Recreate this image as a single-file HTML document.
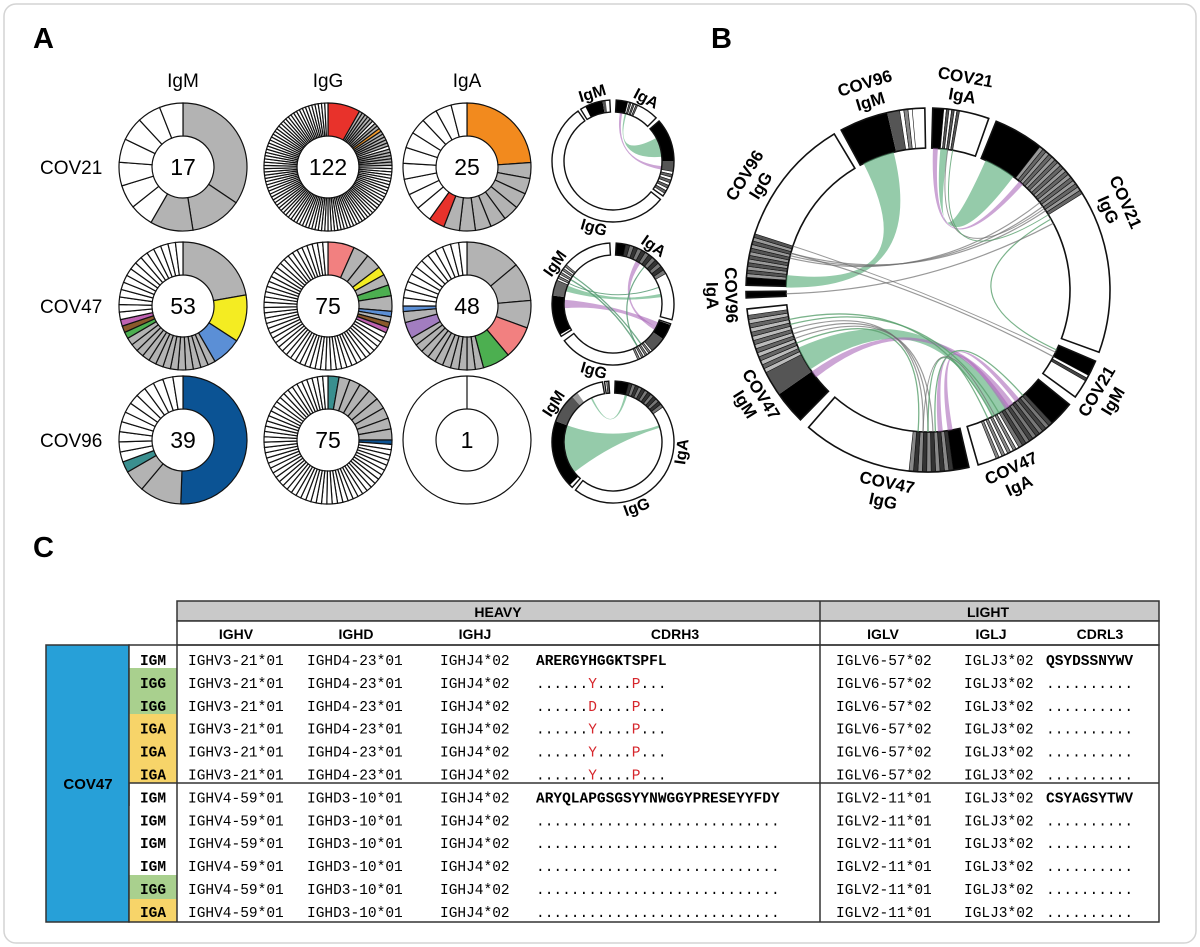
<!DOCTYPE html>
<html><head><meta charset="utf-8"><style>
html,body{margin:0;padding:0;background:#fff}
svg{display:block}
.mono{font-family:"Liberation Mono",monospace;font-size:14.5px}
</style></head><body>
<svg id="s" width="1200" height="947" viewBox="0 0 1200 947" xmlns="http://www.w3.org/2000/svg" font-family="Liberation Sans, Arial, sans-serif">
<rect x="4" y="4" width="1192" height="939" rx="12" fill="#fff" stroke="#d4d4d4" stroke-width="1.5"/>
<g id="shapes"></g>
<text x="33" y="48" font-size="29" font-weight="bold">A</text>
<text x="711" y="48" font-size="29" font-weight="bold">B</text>
<text x="33" y="557" font-size="29" font-weight="bold">C</text>
<g font-size="19" text-anchor="middle">
<text x="183" y="87">IgM</text><text x="328" y="87">IgG</text><text x="467" y="87">IgA</text>
</g>
<g font-size="19">
<text x="40" y="174">COV21</text><text x="40" y="313">COV47</text><text x="40" y="447">COV96</text>
</g>
<g font-size="23" text-anchor="middle">
<text x="183" y="175">17</text><text x="328" y="175">122</text><text x="467" y="175">25</text>
<text x="183" y="314">53</text><text x="328" y="314">75</text><text x="467" y="314">48</text>
<text x="183" y="448">39</text><text x="328" y="448">75</text><text x="467" y="448">1</text>
</g>
<g id="labels" font-weight="bold"></g>

<g>
<rect x="177" y="601" width="982" height="20" fill="#c9c9c9" stroke="#333" stroke-width="1.5"/>
<rect x="177" y="621" width="982" height="24" fill="#fff" stroke="#333" stroke-width="1.5"/>
<rect x="46" y="645" width="83" height="277" fill="#27a0d8" stroke="#333" stroke-width="1.5"/>
<rect x="129" y="645" width="48" height="23" fill="#fff"/>
<rect x="129" y="668" width="48" height="46" fill="#a9d08e"/>
<rect x="129" y="714" width="48" height="69" fill="#f7d469"/>
<rect x="129" y="806" width="48" height="69" fill="#fff"/>
<rect x="129" y="875" width="48" height="24" fill="#a9d08e"/>
<rect x="129" y="899" width="48" height="23" fill="#f7d469"/>
<rect x="129" y="645" width="1030" height="277" fill="none" stroke="#333" stroke-width="1.5"/>
<line x1="177" y1="645" x2="177" y2="922" stroke="#333" stroke-width="1.5"/>
<line x1="820" y1="601" x2="820" y2="922" stroke="#333" stroke-width="1.5"/>
<line x1="129" y1="783" x2="1159" y2="783" stroke="#333" stroke-width="1.5"/>
<g font-family="Liberation Sans, Arial, sans-serif" font-weight="bold" font-size="14" text-anchor="middle">
<text x="498" y="617">HEAVY</text><text x="988" y="617">LIGHT</text>
<text x="236" y="639">IGHV</text><text x="356" y="639">IGHD</text><text x="475" y="639">IGHJ</text><text x="675" y="639">CDRH3</text>
<text x="883" y="639">IGLV</text><text x="991" y="639">IGLJ</text><text x="1100" y="639">CDRL3</text>
<text x="88" y="789" font-size="15">COV47</text>
</g>
<g id="rows" class="mono"></g>
</g>
</svg>
<script>
var NS="http://www.w3.org/2000/svg";
var G=document.getElementById('shapes');
function el(t,a,p){var e=document.createElementNS(NS,t);for(var k in a)e.setAttribute(k,a[k]);(p||G).appendChild(e);return e;}
function pt(cx,cy,r,a){a=a*Math.PI/180;return[cx+r*Math.sin(a),cy-r*Math.cos(a)];}
function sector(cx,cy,r0,r1,a0,a1){var p1=pt(cx,cy,r1,a0),p2=pt(cx,cy,r1,a1),p3=pt(cx,cy,r0,a1),p4=pt(cx,cy,r0,a0);var l=(a1-a0)>180?1:0;
return "M"+p1+"A"+r1+","+r1+" 0 "+l+" 1 "+p2+"L"+p3+"A"+r0+","+r0+" 0 "+l+" 0 "+p4+"Z";}
var GR="#b3b3b3",W="#fff";
function donut(cx,cy,segs){var a=0;segs.forEach(function(s){var n=s[2]||1;for(var i=0;i<n;i++){el('path',{d:sector(cx,cy,31,64,a,a+s[0]),fill:s[1],stroke:'#111','stroke-width':1.2});a+=s[0];}});}
function rest(a,n){return [(360-a)/n,W,n];}
donut(183,167,[[124,GR],[47,GR],[39,GR],rest(210,7)]);
(function(){var s=[[29.5,"#e8322b"]];var a=29.5;var cols=[GR,GR,GR,GR,GR,W,GR,GR,"#f39a2b",GR,GR,GR,GR,GR,W,GR,GR,GR,GR,GR,W];cols.forEach(function(c){s.push([2.951,c]);a+=2.951;});s.push(rest(a,91));donut(328,167,s);})();
donut(467,167,[[86,"#f28a1e"],[14.4,GR,8],[14.4,"#e8322b"],rest(86+14.4*9,10)]);
(function(){var s=[[80,GR],[43,"#f4ec22"],[27,"#5b8fd6"],[6.9,GR,13],[6,"#4caf50"],[6,"#8a5a2b"],[6,"#c062b2"]];var a=80+43+27+6.9*13+18;s.push(rest(a,15));donut(183,306,s);})();
donut(328,306,[[24,"#f28080"],[14.4,GR],[14.4,GR],[8,"#f4ec22"],[10,GR],[10,"#4caf50"],[14,GR],[5,"#5b8fd6"],[5,GR],[5,"#8a5a2b"],[5,"#c062b2"],rest(114.8,51)]);
donut(467,306,[[50,GR],[35,GR],[25,GR],[30,"#f28080"],[25,"#4caf50"],[7.5,GR,10],[15,"#a27dc0"],[10,GR],[5,"#5b8fd6"],rest(270,12)]);
donut(183,440,[[182,"#0b5394"],[38,GR],[20,GR],[10,"#3a8f8f"],rest(250,12)]);
donut(328,440,[[10,"#3a8f8f"],[10,GR,8],[4,"#0b5394"],rest(94,55)]);
el('circle',{cx:467,cy:440,r:64,fill:W,stroke:'#111','stroke-width':1.2});
el('circle',{cx:467,cy:440,r:31,fill:W,stroke:'#111','stroke-width':1.2});
el('line',{x1:467,y1:376,x2:467,y2:409,stroke:'#111','stroke-width':1.2});

var GRN="rgba(92,175,125,0.65)",PUR="rgba(170,105,185,0.6)",GLN="rgba(110,110,110,0.7)";
function ring(cx,cy,r0,r1,parts){
 parts.forEach(function(p){
  if(p[3]){var n=p[3],d=(p[1]-p[0])/n;for(var i=0;i<n;i++)el('path',{d:sector(cx,cy,r0,r1,p[0]+i*d,p[0]+(i+1)*d),fill:(i%2?p[2]:(p[4]||W)),stroke:'#111','stroke-width':0.6});}
  else el('path',{d:sector(cx,cy,r0,r1,p[0],p[1]),fill:p[2],stroke:'none'});
 });}
function outline(cx,cy,r0,r1,a0,a1,sw){el('path',{d:sector(cx,cy,r0,r1,a0,a1),fill:'none',stroke:'#111','stroke-width':sw||1.5});}
function ribbon(cx,cy,r,a0,a1,b0,b1,col){var p1=pt(cx,cy,r,a0),p2=pt(cx,cy,r,a1),p3=pt(cx,cy,r,b0),p4=pt(cx,cy,r,b1);
 el('path',{d:"M"+p1+"A"+r+","+r+" 0 0 1 "+p2+"Q"+cx+","+cy+" "+p3+"A"+r+","+r+" 0 0 1 "+p4+"Q"+cx+","+cy+" "+p1+"Z",fill:col});}
function line(cx,cy,r,a,b,col,w){var p1=pt(cx,cy,r,a),p2=pt(cx,cy,r,b);el('path',{d:"M"+p1+"Q"+cx+","+cy+" "+p2,fill:'none',stroke:col,'stroke-width':w||1});}

var BX=928,BY=290,R0=142,R1=182;
var bsegs=[[1.5,19.5],[22,110],[113,126],[129,164],[167,221],[224.5,264],[267.5,269.5],[271.5,329],[331.5,359]];
bsegs.forEach(function(s){el('path',{d:sector(BX,BY,R0,R1,s[0],s[1]),fill:W});});
ring(BX,BY,R0,R1,[[1.5,5,"#000"],[5,10,"#555",6],[22,38,"#000"],[38,58,"#666",16,"#999"],[113,118,"#000"],[118,120,"#444",2],[129,137,"#000"],[137,150,"#777",10,"#444"],[150,158,"#888",8],[167,172,"#000"],[172,186,"#888",10,"#333"],[224.5,235,"#000"],[235,243,"#555"],[243,262,"#666",14,"#bbb"],[267.5,269.5,"#000"],[271.5,274,"#000"],[274,288,"#555",12,"#999"],[331.5,347,"#000"],[347,351,"#555"],[351,355,"#888",3]]);
bsegs.forEach(function(s){outline(BX,BY,R0,R1,s[0],s[1],1.6);});
ribbon(BX,BY,R0,333,346,271,276,GRN);
ribbon(BX,BY,R0,24,37,5,8,GRN);
ribbon(BX,BY,R0,2,4,40,42,PUR);
[52,54,56].forEach(function(a,i){line(BX,BY,R0,a,283+i,GLN,1.2);});
line(BX,BY,R0,285,118,GLN,1.2);line(BX,BY,R0,288,116,GLN,1);
line(BX,BY,R0,60,115,"rgba(90,160,110,0.8)",1.2);
line(BX,BY,R0,268.5,62,GLN,1.2);
line(BX,BY,R0,8,55,GLN,1);line(BX,BY,R0,10,58,"rgba(90,160,110,0.8)",1);
ribbon(BX,BY,R0,236,246,146,153,GRN);
ribbon(BX,BY,R0,232,235,143,146,PUR);
ribbon(BX,BY,R0,170,172,140,142,PUR);ribbon(BX,BY,R0,174,176,145,147,PUR);
[250,252,254].forEach(function(a,i){line(BX,BY,R0,a,178+i*2,GLN,1.2);});
[256,258].forEach(function(a,i){line(BX,BY,R0,a,150+i*3,"rgba(90,160,110,0.8)",1.3);});
line(BX,BY,R0,180,155,"rgba(90,160,110,0.8)",1.3);line(BX,BY,R0,177,138,"rgba(90,160,110,0.8)",1.3);
line(BX,BY,R0,182,152,GLN,1);line(BX,BY,R0,248,184,"rgba(90,160,110,0.8)",1.3);

function small(cx,cy,segs,parts,ch){var r0=49,r1=61;segs.forEach(function(s){el('path',{d:sector(cx,cy,r0,r1,s[0],s[1]),fill:W});});ring(cx,cy,r0,r1,parts);ch(cx,cy,r0);segs.forEach(function(s){outline(cx,cy,r0,r1,s[0],s[1],1.4);});}
small(613,161,[[328,357],[3,45],[49,125],[129,325]],[[333,350,"#000"],[350,353,"#555"],[3,14,"#000"],[14,24,"#666",6],[49,90,"#000"],[90,100,"#555"],[100,122,"#666",8]],function(cx,cy,r){ribbon(cx,cy,r,8,11,96,100,PUR);ribbon(cx,cy,r,14,16,62,85,GRN);});
small(613,304,[[238,357],[3,105],[109,233]],[[240,278,"#000"],[278,293,"#666"],[293,310,"#888",8],[3,12,"#000"],[12,60,"#777",12,"#333"],[110,125,"#000"],[125,140,"#555"],[140,156,"#888",8]],function(cx,cy,r){ribbon(cx,cy,r,265,275,112,118,PUR);ribbon(cx,cy,r,28,34,118,122,PUR);ribbon(cx,cy,r,285,292,78,82,GRN);line(cx,cy,r,300,150,"rgba(80,150,110,0.8)",1.3);line(cx,cy,r,305,145,"rgba(80,150,110,0.8)",1.3);line(cx,cy,r,40,150,"rgba(80,150,110,0.8)",1.2);line(cx,cy,r,295,70,"rgba(80,150,110,0.8)",1);});
small(613,442,[[222,350],[352,356],[2,218]],[[225,290,"#000"],[290,318,"#555"],[318,324,"#999"],[352,356,"#888",2],[2,15,"#000"],[15,55,"#777",12,"#333"]],function(cx,cy,r){ribbon(cx,cy,r,232,290,70,73,GRN);ribbon(cx,cy,r,333,335,14,17,GRN);});

var L=document.getElementById('labels');
function clab(cx,cy,R,ang,lines,fs,lh){var top=(ang>=270||ang<=90);var rot=top?ang:ang-180;var n=lines.length;
 lines.forEach(function(t,i){var r=top?R+(n-1-i)*lh:R+i*lh;var p=pt(cx,cy,r,ang);var e=el('text',{x:p[0],y:p[1],'text-anchor':'middle','dominant-baseline':'central','font-size':fs,transform:'rotate('+rot+' '+p[0]+' '+p[1]+')'},L);e.textContent=t;});}
clab(BX,BY,197,343,["COV96","IgM"],17,19);
clab(BX,BY,197,10,["COV21","IgA"],17,19);
clab(BX,BY,197,66,["COV21","IgG"],17,19);
clab(BX,BY,197,121,["COV21","IgM"],17,19);
clab(BX,BY,197,155,["COV47","IgA"],17,19);
clab(BX,BY,197,192,["COV47","IgG"],17,19);
clab(BX,BY,197,238,["COV47","IgM"],17,19);
clab(BX,BY,197,268.5,["COV96","IgA"],17,19);
clab(BX,BY,197,302,["COV96","IgG"],17,19);
clab(613,161,70,343,["IgM"],16,0);clab(613,161,70,28,["IgA"],16,0);clab(613,161,70,196,["IgG"],16,0);
clab(613,304,70,305,["IgM"],16,0);clab(613,304,70,35,["IgA"],16,0);clab(613,304,70,196,["IgG"],16,0);
clab(613,442,70,303,["IgM"],16,0);clab(613,442,70,98,["IgA"],16,0);clab(613,442,70,160,["IgG"],16,0);

var R=document.getElementById('rows');
function tx(x,y,t,o){var e=el('text',Object.assign({x:x,y:y},o||{}),R);e.textContent=t;return e;}
var cls=["IGM","IGG","IGG","IGA","IGA","IGA","IGM","IGM","IGM","IGM","IGG","IGA"];
var h3=["ARERGYHGGKTSPFL","......Y....P...","......D....P...","......Y....P...","......Y....P...","......Y....P..."];
for(var i=0;i<12;i++){var y=665+i*22.9;var a=i<6;
 tx(153,y,cls[i],{'text-anchor':'middle','font-weight':'bold'});
 tx(188,y,a?"IGHV3-21*01":"IGHV4-59*01");tx(307,y,a?"IGHD4-23*01":"IGHD3-10*01");tx(440,y,"IGHJ4*02");
 if(a){if(i==0)tx(536,y,h3[0],{'font-weight':'bold'});else{var e=tx(536,y,"");var s=h3[i];for(var k=0;k<s.length;k++){var ts=document.createElementNS(NS,'tspan');ts.textContent=s[k];if(s[k]!='.')ts.setAttribute('fill','#d6252b');e.appendChild(ts);}}}
 else tx(536,y,i==6?"ARYQLAPGSGSYYNWGGYPRESEYYFDY":"............................",i==6?{'font-weight':'bold'}:{});
 tx(836,y,a?"IGLV6-57*02":"IGLV2-11*01");tx(964,y,"IGLJ3*02");
 tx(1046,y,i==0?"QSYDSSNYWV":(i==6?"CSYAGSYTWV":".........."),(i==0||i==6)?{'font-weight':'bold'}:{});
}
</script>
</body></html>
